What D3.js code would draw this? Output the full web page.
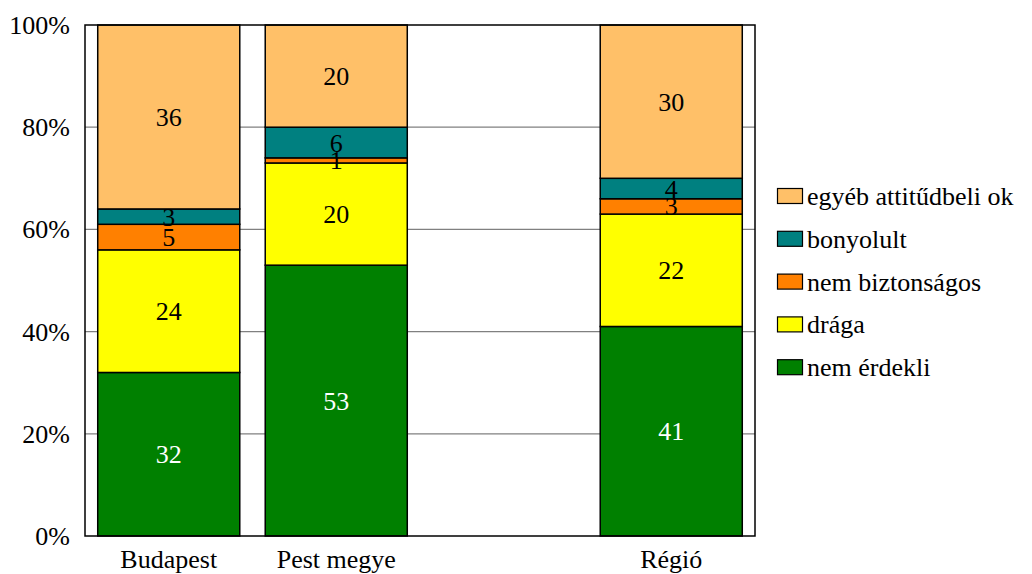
<!DOCTYPE html>
<html><head><meta charset="utf-8">
<script src="https://cdn.jsdelivr.net/npm/d3@7"></script>
<style>body{margin:0;background:#fff;} svg{display:block;} text{font-family:"Liberation Serif","Times New Roman",serif;}</style>
</head><body>
<svg id="c" width="1032" height="574"></svg>
<script>
const categories = ["Budapest", "Pest megye", "", "Régió"];
const seriesNames = ["nem érdekli", "drága", "nem biztonságos", "bonyolult", "egyéb attitűdbeli ok"];
const nemErdekli = [32, 53, null, 41];
const draga = [24, 20, null, 22];
const nemBiztonsagos = [5, 1, null, 3];
const bonyolult = [3, 6, null, 4];
const egyeb = [36, 20, null, 30];
const yTicks = [0, 20, 40, 60, 80, 100];
const colors = ["#008000", "#FFFF00", "#FF8000", "#008080", "#FFC068"];
const labelColors = ["#fff", "#000", "#000", "#000", "#000"];

const series = [nemErdekli, draga, nemBiztonsagos, bonyolult, egyeb];
const svg = d3.select("#c");
const L = 85, R = 755, T = 25, B = 536;
const FS = 26;

const x = d3.scaleBand().domain(categories.map((c,i)=>i)).range([L, R]).paddingInner(0.152).paddingOuter(0.076);
const y = d3.scaleLinear().domain([0, 100]).range([B, T]);

// gridlines
svg.append("g").selectAll("line").data(yTicks.filter(t=>t>0 && t<100)).join("line")
  .attr("x1", L).attr("x2", R).attr("y1", d=>y(d)).attr("y2", d=>y(d))
  .attr("stroke", "#808080").attr("stroke-width", 1.2);

// stacked bars
const rows = categories.map((c,i)=>{ const o={i}; seriesNames.forEach((s,k)=>o[s]=series[k][i]||0); return o; });
const stack = d3.stack().keys(seriesNames)(rows);
stack.forEach((layer, k) => {
  const g = svg.append("g");
  layer.forEach(d => {
    const v = series[k][d.data.i];
    if (v == null) return;
    g.append("rect").attr("x", x(d.data.i)).attr("width", x.bandwidth())
      .attr("y", y(d[1])).attr("height", y(d[0]) - y(d[1]))
      .attr("fill", colors[k]).attr("stroke", "#000").attr("stroke-width", 1.5);
  });
});
stack.forEach((layer, k) => {
  layer.forEach(d => {
    const v = series[k][d.data.i];
    if (v == null) return;
    svg.append("text").attr("x", x(d.data.i) + x.bandwidth()/2)
      .attr("y", (y(d[0]) + y(d[1]))/2 + 9)
      .attr("text-anchor", "middle").attr("font-size", FS)
      .attr("fill", labelColors[k]).text(v);
  });
});

// frame
svg.append("rect").attr("x", L).attr("y", T).attr("width", R-L).attr("height", B-T)
  .attr("fill", "none").attr("stroke", "#000").attr("stroke-width", 1.5);

// y axis labels
svg.append("g").selectAll("text").data(yTicks).join("text")
  .attr("x", 70).attr("y", d=>y(d)+9).attr("text-anchor", "end")
  .attr("font-size", FS).attr("fill", "#000").text(d=>d+"%");

// x labels
svg.append("g").selectAll("text").data(categories.map((c,i)=>({c,i}))).join("text")
  .attr("x", d=>x(d.i)+x.bandwidth()/2).attr("y", 568).attr("text-anchor", "middle")
  .attr("font-size", FS).attr("fill", "#000").text(d=>d.c);

// legend
const legendOrder = [4,3,2,1,0];
const lg = svg.append("g");
legendOrder.forEach((k, j) => {
  const cy = 196 + j*42.8;
  lg.append("rect").attr("x", 777.5).attr("y", cy-7.5).attr("width", 25).attr("height", 15)
    .attr("fill", colors[k]).attr("stroke", "#000").attr("stroke-width", 1.2);
  lg.append("text").attr("x", 807).attr("y", cy+9).attr("font-size", FS)
    .attr("fill", "#000").text(seriesNames[k]);
});
</script>
</body></html>
